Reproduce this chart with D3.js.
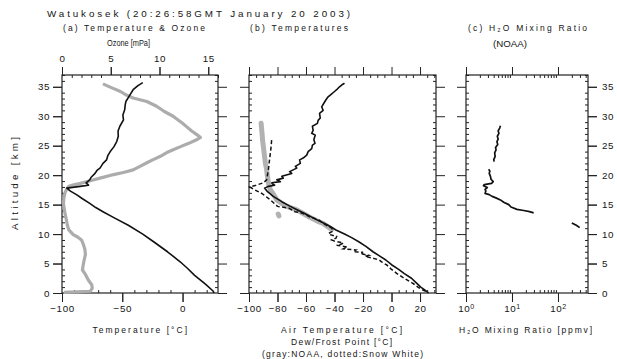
<!DOCTYPE html>
<html>
<head>
<meta charset="utf-8">
<script src="https://cdnjs.cloudflare.com/ajax/libs/d3/7.8.5/d3.min.js"></script>
<style>
body{margin:0;background:#fff;}
text{font-family:"Liberation Sans",Arial,Helvetica,sans-serif;fill:#151515;}
</style>
</head>
<body>
<svg id="chart" width="617" height="359"></svg>
<script>
// ---- data: [altitude km, value] ----
// ozonesonde air temperature, panel (a)
const sondeTemp = [[0,26],[0.3,25.5],[1.5,19],[3,10],[4.2,4],[5.3,-2],[7,-12.5],[8.7,-24],[10,-33],[11.5,-45],[12.8,-57],[13.8,-66],[14.5,-72],[15.2,-77],[16,-83],[16.7,-88],[17.3,-93],[17.8,-96],[18.1,-85],[18.3,-78],[18.7,-80],[19.2,-77],[19.6,-76],[20.3,-72.6],[20.8,-71],[21.2,-68.5],[22,-66],[22.6,-63],[23.3,-62],[24,-60],[24.8,-57],[25.7,-54.6],[26.6,-53.3],[27.5,-53.5],[28.3,-52],[29.4,-49],[30.2,-49.5],[31.1,-48],[32,-47.5],[32.5,-47],[33.5,-44],[34.5,-41],[35.2,-37],[35.7,-33]];

// radiosonde air temperature, panel (b)
const airTemp = [[0,26],[0.5,23.5],[1,20.5],[1.8,17],[2.5,14],[3.3,9],[4,5],[4.8,0],[5.6,-4],[6.3,-8.5],[7,-13],[7.9,-18],[8.7,-23],[9.4,-28],[10,-33],[10.7,-39],[11.3,-43],[11.8,-47],[12.5,-53],[13,-57],[13.5,-61],[14.1,-66],[14.7,-71],[15.5,-77],[16.4,-83],[17.2,-87],[17.8,-89],[18.1,-86.5],[18.3,-82],[18.5,-83.5],[18.7,-84],[18.9,-78],[19.2,-80.5],[19.5,-76],[19.8,-77],[20.3,-70],[20.6,-71.5],[21.2,-66.5],[21.5,-67.5],[22,-64],[22.6,-64.5],[22.9,-62],[23.4,-59.5],[24,-58.5],[24.5,-56],[25.1,-55.5],[25.4,-53.7],[26,-54.5],[26.8,-53.5],[27.1,-56],[27.6,-55],[28.3,-55.5],[28.8,-52],[29.3,-51.5],[29.7,-50],[30.5,-50.5],[31,-48],[31.6,-49],[32.2,-47.5],[32.8,-46],[33.3,-44.5],[33.6,-43],[34.2,-40],[34.5,-38.5],[35,-36.5],[35.3,-35],[35.6,-33]];

const ozone = [[0.1,0.2],[0.2,1.5],[0.3,2.9],[0.8,3.1],[1.4,3.05],[2.2,2.7],[3.3,2.35],[3.9,2.1],[4.5,2.15],[5,2.2],[5.8,2.3],[6.5,2.4],[7.4,2.35],[8.2,2.2],[9,2],[9.5,1.6],[9.9,1.15],[10.7,0.7],[11.5,0.55],[12.4,0.45],[13.6,0.3],[14.5,0.2],[15.3,0.15],[16.2,0.2],[17,0.3],[17.7,0.5],[18.1,0.7],[18.4,1.3],[18.6,1.9],[19.1,3],[19.5,3.9],[20.1,5.3],[20.5,6.4],[20.9,7.3],[21.5,8],[22.1,8.7],[22.6,9.3],[23.2,10.1],[23.8,10.7],[24.3,11.4],[24.8,12.1],[25.4,13],[26,13.8],[26.4,14.2],[26.8,13.9],[27.5,13.3],[28.2,12.8],[28.9,12.3],[29.5,11.8],[30,11.4],[30.8,10.5],[31.7,9.7],[32.5,8.7],[33.1,7.3],[33.6,6.6],[34.2,6],[34.9,5],[35.5,4.2]];

// Snow White dew/frost point (dotted)
const snowWhite = [[0.3,24],[0.5,22],[1.0,18.5],[1.64,15],[2.4,9.5],[3.34,3.6],[4.0,0],[4.76,-3.4],[5.3,-7],[5.6,-8.5],[5.9,-13],[6.2,-18.6],[6.4,-16],[6.7,-22],[6.9,-20],[7.0,-26.8],[7.3,-25],[7.5,-33.8],[7.8,-31],[8.1,-38.5],[8.3,-35],[8.5,-33.8],[8.8,-40],[9.0,-42],[9.3,-39],[9.6,-38.5],[9.9,-43],[10.1,-44.3],[10.5,-41],[11.0,-42],[11.4,-45],[11.8,-47.8],[12.4,-51],[12.9,-57.2],[13.5,-62],[13.8,-67.7],[14.4,-72],[14.7,-80],[15.8,-85],[16.9,-91],[17.5,-96],[18.0,-99.5],[18.3,-95],[18.7,-90],[19.2,-87.6],[20.1,-87],[20.9,-86.4],[22.2,-85.8],[23.2,-85.3],[24.6,-84.6],[26.0,-84.1]];

// NOAA frost point (gray)
const noaaFrost = [[28.8,-91.5],[28,-91.2],[27,-90.8],[26,-90.5],[25,-90],[24,-89.5],[23,-89],[22,-88.5],[20.9,-87.6],[20,-87.2],[18.9,-86.5],[18.2,-86],[17.5,-85],[16.8,-83],[15.8,-80.5],[15.2,-77],[14.7,-73.5],[14.1,-66.5],[13.5,-62],[12.8,-57],[12.2,-52],[11.8,-48],[11.3,-45],[10.8,-42],null,[13.4,-79.5],[13.1,-79]];

// NOAA H2O mixing ratio, ppmv
const h2o = [[28.4,5.6],[28.0,5.4],[27.5,5.0],[27.1,5.2],[26.6,4.8],[26.1,5.0],[25.7,4.7],[25.2,4.9],[24.7,4.4],[24.3,4.5],[23.8,4.2],[23.2,4.3],[22.6,4.0],[22.3,4.1],null,[21.0,3.1],[20.7,3.3],[20.3,3.2],[19.8,3.4],[19.3,3.5],[18.9,3.9],[18.6,3.6],[18.4,2.5],[18.2,2.4],[17.9,2.9],[17.6,2.6],[17.3,2.7],[16.9,2.6],[16.7,3.2],[16.4,3.7],[16.1,4.6],[15.8,5.6],[15.4,6.6],[15.0,8.5],[14.6,9.5],[14.2,12.8],[14.0,18],[13.8,24],[13.6,29.6],null,[11.9,200],[11.5,250],[11.1,296]];

const altTicks = [0,5,10,15,20,25,30,35];
const ozoneTicks = [0,5,10,15];
const tempTicksA = [-100,-50,0];
const tempTicksB = [-100,-80,-60,-40,-20,0,20];
const h2oTicks = [1,10,100];

// ---- layout ----
const svg = d3.select("#chart");
const y = d3.scaleLinear().domain([0,37]).range([293,75]);
const xTa = d3.scaleLinear().domain([-100,29.4]).range([62,218]);
const xOz = d3.scaleLinear().domain([0,16]).range([62,218]);
const xTb = d3.scaleLinear().domain([-100,31.2]).range([249,436]);
const xH = d3.scaleLog().domain([1,449]).range([466,588]);

const altMinor = d3.range(0,38).filter(v => v%5 !== 0);

function axis(fn, scale, vals, size, tx, ty, fmt, pad) {
  const g = svg.append("g").attr("transform", "translate(" + tx + "," + ty + ")")
    .call(fn(scale).tickValues(vals).tickSize(size).tickPadding(pad || 0).tickFormat(fmt || (() => "")));
  g.select(".domain").remove();
  g.selectAll("line").attr("stroke", "#222").attr("stroke-width", 1);
  g.attr("font-family", null).attr("font-size", null);
  g.selectAll("text").style("font-size", "9.8px").style("letter-spacing", "0.6px").attr("fill", "#151515");
  return g;
}

function panel(x, topVals, topMinor, botVals, botMinor) {
  const [x0, x1] = x.range();
  svg.append("rect").attr("x", x0).attr("y", 75).attr("width", x1 - x0).attr("height", 218)
    .attr("fill", "none").attr("stroke", "#222").attr("stroke-width", 1.2);
  axis(d3.axisLeft, y, altTicks, 9, x0, 0);
  axis(d3.axisLeft, y, altMinor, -3, x0, 0);
  axis(d3.axisRight, y, altTicks, 9, x1, 0);
  axis(d3.axisRight, y, altMinor, -3, x1, 0);
  axis(d3.axisTop, topVals[0], topVals[1], 8, 0, 75);
  axis(d3.axisTop, topVals[0], topMinor, -3, 0, 75);
  axis(d3.axisBottom, botVals[0], botVals[1], 9, 0, 293);
  axis(d3.axisBottom, botVals[0], botMinor, -3, 0, 293);
}

const minorA = d3.range(-90,30,10).filter(v => v !== -50 && v !== 0);
const minorB = d3.range(-95,31,5).filter(v => v % 20 !== 0);
const ozMinor = d3.range(0,17).filter(v => v % 5 !== 0);
const hMinor = [2,3,4,5,6,7,8,9,20,30,40,50,60,70,80,90,200,300,400];

panel(xTa, [xOz, ozoneTicks], ozMinor, [xTa, tempTicksA], minorA);
panel(xTb, [xTb, tempTicksB], minorB, [xTb, tempTicksB], minorB);
panel(xH, [xH, h2oTicks], hMinor, [xH, h2oTicks], hMinor);

// tick labels
const signed = d => d3.format("d")(d).replace("-", "\u2212");
axis(d3.axisLeft, y, altTicks, 9, 62, 0, d3.format("d"), 3);
axis(d3.axisRight, y, altTicks, 9, 588, 0, d3.format("d"), 5);
axis(d3.axisTop, xOz, ozoneTicks, 8, 0, 75, d3.format("d"), 5);
axis(d3.axisBottom, xTa, tempTicksA, 9, 0, 293, signed, 3);
axis(d3.axisBottom, xTb, tempTicksB, 9, 0, 293, signed, 3);
const hl = axis(d3.axisBottom, xH, h2oTicks, 9, 0, 293, d => "10", 3);
hl.selectAll("text").append("tspan").attr("dy", "-0.45em").style("font-size", "7px")
  .text(d => Math.round(Math.log10(d)));

// curves
const line = (xs) => d3.line().defined(d => d !== null).x(d => xs(d[1])).y(d => y(d[0]));

svg.append("path").datum(ozone).attr("d", line(xOz)).attr("fill", "none")
  .attr("stroke", "#acacac").attr("stroke-width", 3.2).attr("stroke-linejoin", "round");
svg.append("path").datum(sondeTemp).attr("d", line(xTa)).attr("fill", "none")
  .attr("stroke", "#111").attr("stroke-width", 1.6).attr("stroke-linejoin", "round");

svg.append("path").datum(noaaFrost).attr("d", line(xTb)).attr("fill", "none")
  .attr("stroke", "#b2b2b2").attr("stroke-width", 5).attr("stroke-linecap", "round").attr("stroke-linejoin", "round");
svg.append("path").datum(airTemp).attr("d", line(xTb)).attr("fill", "none")
  .attr("stroke", "#111").attr("stroke-width", 1.6).attr("stroke-linejoin", "round");
svg.append("path").datum(snowWhite).attr("d", line(xTb)).attr("fill", "none")
  .attr("stroke", "#111").attr("stroke-width", 1.5).attr("stroke-dasharray", "4,2.5");

svg.append("path").datum(h2o).attr("d", line(xH)).attr("fill", "none")
  .attr("stroke", "#111").attr("stroke-width", 1.7).attr("stroke-linejoin", "round");

// titles and labels
function label(str, x, yy, len, size, squeeze) {
  const t = svg.append("text").attr("x", x).attr("y", yy).style("font-size", size + "px").text(str);
  if (len) t.attr("textLength", len).attr("lengthAdjust", squeeze ? "spacingAndGlyphs" : "spacing");
  return t;
}
label("Watukosek (20:26:58GMT January 20 2003)", 47, 16.7, 303, 9.8);
label("(a) Temperature & Ozone", 63, 31, 142, 8.5);
label("(b) Temperatures", 250, 31, 98, 8.5);
label("(c) H\u2082O Mixing Ratio", 468, 31, 119, 8.5);
label("(NOAA)", 493, 46.5, 34, 8.5, true);
label("Ozone [mPa]", 107, 46, 43, 8.5, true);

label("Temperature [\u00B0C]", 92.5, 333, 94.5, 8.5);
label("Air Temperature [\u00B0C]", 281, 333, 121, 8.5);
label("Dew/Frost Point [\u00B0C]", 291, 345, 101, 8.5);
label("(gray:NOAA, dotted:Snow White)", 262, 357, 161, 8.5);
label("H\u2082O Mixing Ratio [ppmv]", 459, 333, 133, 8.5);

svg.append("text").attr("transform", "translate(18,183.5) rotate(-90)")
  .attr("text-anchor", "middle").style("font-size", "9.8px")
  .attr("textLength", 93).attr("lengthAdjust", "spacing").text("Altitude [km]");
</script>
</body>
</html>
